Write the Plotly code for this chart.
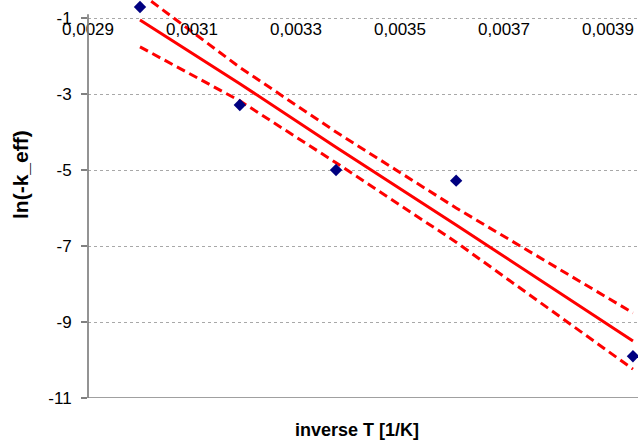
import plotly.graph_objects as go

# ---- data ----
inv_T = [0.0030, 0.003192, 0.003377, 0.003608, 0.003948]
ln_k = [-0.71, -3.29, -5.00, -5.28, -9.90]
fit_y = [-1.053, -2.729, -4.403, -6.447, -9.50]
upper_y = [-0.34, -2.30, -4.00, -6.00, -8.76]
lower_y = [-1.76, -3.18, -4.81, -6.90, -10.24]
y_ticks = [-1, -3, -5, -7, -9, -11]
y_tick_text = ["-1", "-3", "-5", "-7", "-9", "-11"]

W, H = 638, 446
ML, MB = 88, 48
plot_w = W - ML
plot_h = H - MB

xmin = 0.0029
xmax = xmin + plot_w / 520000.0
ymin = -11.0
ymax = -1.0 + 18 / 38.0

RED = "#FF0000"
FONT = "Liberation Sans, Arial, sans-serif"

fig = go.Figure()
fig.add_trace(go.Scatter(x=inv_T, y=upper_y, mode="lines",
                         line=dict(color=RED, width=3, dash="9px,5px"), showlegend=False))
fig.add_trace(go.Scatter(x=inv_T, y=lower_y, mode="lines",
                         line=dict(color=RED, width=3, dash="9px,5px"), showlegend=False))
fig.add_trace(go.Scatter(x=inv_T, y=fit_y, mode="lines",
                         line=dict(color=RED, width=3), showlegend=False))
fig.add_trace(go.Scatter(x=inv_T, y=ln_k, mode="markers",
                         marker=dict(symbol="diamond", size=9.5, color="#000080"),
                         cliponaxis=False, showlegend=False))

pos_top = (-1 - ymin) / (ymax - ymin)

fig.update_layout(
    width=W, height=H,
    margin=dict(l=ML, r=0, t=0, b=MB, pad=0, autoexpand=False),
    paper_bgcolor="white", plot_bgcolor="white",
    separators=",.",
    font=dict(family=FONT, size=17, color="#000000"),
    xaxis=dict(range=[xmin, xmax], tick0=0.0029, dtick=0.0002, tickformat=".4f",
               showgrid=False, zeroline=False, showline=False, ticks="",
               anchor="free", position=pos_top, side="bottom", automargin=False,
               tickfont=dict(size=17), ticklabelstandoff=-1),
    yaxis=dict(range=[ymin, ymax], tickvals=y_ticks, ticktext=y_tick_text,
               showgrid=True, gridcolor="#A8A8A8", griddash="dot", gridwidth=1,
               zeroline=False, showline=False, ticks="outside", ticklen=6,
               tickcolor="#808080", tickwidth=1.5, tickfont=dict(size=17),
               ticklabelstandoff=6, automargin=False),
    shapes=[
        dict(type="line", xref="paper", yref="y", x0=0, x1=1, y0=-11, y1=-11,
             line=dict(color="#808080", width=1.7)),
        dict(type="line", xref="paper", yref="y", x0=0, x1=0, y0=-11, y1=-0.9,
             line=dict(color="#808080", width=1.7)),
    ],
    annotations=[
        dict(text="<b>inverse T [1/K]</b>", xref="paper", yref="paper",
             x=(357 - ML) / plot_w, y=(plot_h - 430) / plot_h,
             xanchor="center", yanchor="middle", showarrow=False,
             font=dict(size=18)),
        dict(text="<b>ln(-k_eff)</b>", xref="paper", yref="paper",
             x=(21 - ML) / plot_w, y=(plot_h - 175) / plot_h,
             xanchor="center", yanchor="middle", showarrow=False, textangle=-90,
             font=dict(size=21)),
    ],
)

fig.write_html("out.html", config={"displayModeBar": False},
               post_script="document.body.style.margin='0';document.body.style.overflow='hidden';")
